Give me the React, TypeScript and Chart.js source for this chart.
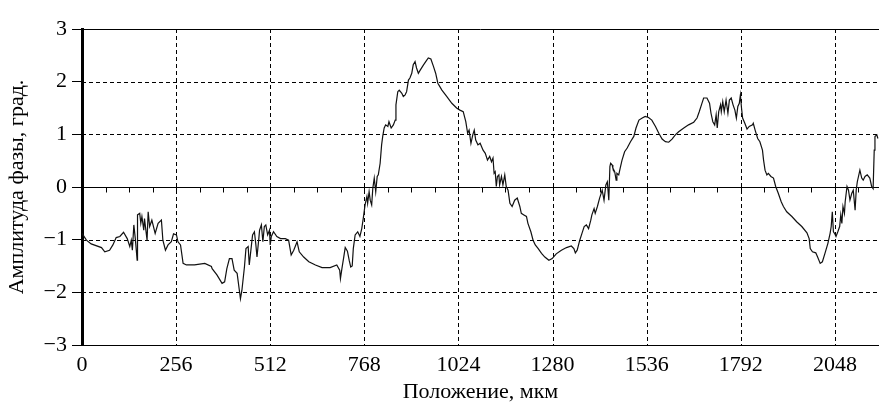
import React, { useEffect, useRef } from "react";
import { Chart, registerables } from "chart.js";

Chart.register(...registerables);

// Position along the sample, µm
const positions = [
  0, 12, 25, 53, 62, 75, 84, 93, 103, 113, 123, 130, 134, 137, 141, 145, 150, 151, 157, 160,
  163, 168, 170, 177, 180, 184, 190, 199, 207, 216, 220, 227, 234, 243, 249, 257, 261, 268, 275, 284,
  306, 334, 352, 354, 367, 381, 388, 394, 401, 408, 414, 422, 428, 431, 435, 442, 446, 452, 455, 461,
  464, 469, 473, 476, 481, 483, 488, 492, 496, 500, 505, 510, 512, 515, 521, 530, 540, 553, 562, 569,
  576, 585, 591, 603, 617, 635, 653, 675, 693, 701, 703, 707, 712, 716, 722, 727, 731, 735, 738, 743,
  750, 756, 761, 765, 770, 775, 777, 781, 784, 788, 791, 795, 799, 803, 806, 811, 815, 818, 822, 826,
  832, 835, 841, 847, 852, 854, 859, 863, 870, 874, 879, 883, 888, 892, 897, 901, 906, 910, 915, 920,
  929, 935, 942, 949, 956, 962, 968, 979, 992, 1006, 1019, 1028, 1037, 1044, 1049, 1053, 1058, 1063, 1067, 1071,
  1077, 1083, 1091, 1097, 1103, 1109, 1114, 1118, 1121, 1124, 1127, 1130, 1134, 1136, 1141, 1145, 1150, 1154, 1159, 1164,
  1170, 1177, 1184, 1191, 1195, 1202, 1209, 1213, 1221, 1227, 1233, 1241, 1250, 1259, 1270, 1279, 1290, 1304, 1318, 1331,
  1338, 1342, 1347, 1354, 1360, 1366, 1372, 1378, 1384, 1387, 1393, 1396, 1402, 1408, 1415, 1420, 1425, 1429, 1433, 1436,
  1438, 1442, 1444, 1449, 1453, 1455, 1460, 1464, 1469, 1476, 1483, 1492, 1501, 1507, 1515, 1524, 1532, 1541, 1550, 1560,
  1569, 1578, 1587, 1596, 1605, 1614, 1623, 1637, 1650, 1664, 1673, 1679, 1685, 1691, 1700, 1707, 1711, 1716, 1721, 1725,
  1728, 1732, 1737, 1739, 1743, 1747, 1752, 1757, 1761, 1766, 1771, 1776, 1780, 1784, 1788, 1791, 1794, 1797, 1803, 1809,
  1815, 1824, 1826, 1831, 1838, 1844, 1851, 1854, 1858, 1863, 1867, 1874, 1881, 1887, 1894, 1902, 1908, 1917, 1931, 1944,
  1958, 1972, 1978, 1981, 1987, 1996, 2001, 2008, 2014, 2021, 2029, 2035, 2038, 2041, 2044, 2047, 2051, 2056, 2061, 2064,
  2067, 2070, 2074, 2076, 2081, 2085, 2089, 2094, 2098, 2103, 2106, 2109, 2116, 2121, 2125, 2130, 2136, 2143, 2148, 2152,
  2155, 2157, 2162, 2165,
];

// Phase amplitude, degrees
const amplitudes = [
  -0.88, -1.01, -1.08, -1.15, -1.23, -1.2, -1.1, -0.96, -0.94, -0.86, -0.98, -1.13, -1.01, -1.2, -0.72, -0.98, -1.39, -0.53, -0.5, -0.69,
  -0.56, -0.82, -0.6, -1.01, -0.47, -0.75, -0.63, -0.88, -0.69, -0.63, -1.01, -1.2, -1.1, -1.04, -0.89, -0.91, -1.04, -1.1, -1.45, -1.48,
  -1.48, -1.45, -1.51, -1.55, -1.67, -1.83, -1.8, -1.55, -1.36, -1.36, -1.58, -1.64, -1.96, -2.12, -1.96, -1.51, -1.17, -1.13, -1.48, -1.1,
  -0.91, -0.85, -1.1, -1.33, -0.98, -0.82, -0.72, -1.04, -0.75, -0.72, -0.91, -0.82, -1.1, -0.94, -0.85, -0.94, -0.98, -0.98, -1.01, -1.29,
  -1.2, -1.04, -1.23, -1.33, -1.42, -1.48, -1.53, -1.53, -1.48, -1.58, -1.74, -1.55, -1.33, -1.15, -1.22, -1.4, -1.52, -1.5, -1.17, -0.91,
  -0.85, -0.94, -0.79, -0.6, -0.34, -0.18, -0.31, -0.09, -0.25, -0.34, -0.03, 0.17, -0.09, 0.2, 0.23, 0.45, 0.8, 0.96, 1.12, 1.18,
  1.15, 1.24, 1.12, 1.18, 1.27, 1.56, 1.81, 1.84, 1.78, 1.72, 1.75, 1.81, 2.03, 2.07, 2.16, 2.32, 2.38, 2.26, 2.16, 2.22,
  2.32, 2.38, 2.45, 2.43, 2.29, 2.16, 1.97, 1.84, 1.72, 1.59, 1.5, 1.46, 1.43, 1.24, 1.02, 1.08, 0.83, 0.99, 1.08, 0.89,
  0.8, 0.83, 0.7, 0.64, 0.51, 0.58, 0.48, 0.55, 0.26, 0.29, 0.01, 0.2, 0.23, 0.04, 0.2, 0.04, 0.23, 0.01, -0.06, -0.31,
  -0.37, -0.25, -0.21, -0.37, -0.5, -0.53, -0.56, -0.69, -0.85, -1.01, -1.1, -1.17, -1.26, -1.33, -1.39, -1.36, -1.27, -1.2, -1.15, -1.12,
  -1.17, -1.25, -1.2, -1.01, -0.88, -0.75, -0.72, -0.79, -0.63, -0.53, -0.41, -0.5, -0.37, -0.21, -0.06, -0.25, 0.04, 0.1, -0.25, 0.39,
  0.45, 0.42, 0.36, 0.29, 0.13, 0.26, 0.23, 0.36, 0.51, 0.67, 0.74, 0.86, 0.96, 1.12, 1.27, 1.31, 1.34, 1.32, 1.27, 1.15,
  1.02, 0.91, 0.86, 0.85, 0.91, 0.99, 1.05, 1.12, 1.18, 1.23, 1.31, 1.43, 1.56, 1.69, 1.69, 1.59, 1.4, 1.24, 1.18, 1.37,
  1.12, 1.43, 1.56, 1.43, 1.62, 1.43, 1.65, 1.4, 1.65, 1.69, 1.56, 1.46, 1.31, 1.53, 1.59, 1.75, 1.5, 1.31, 1.21, 1.1,
  1.15, 1.18, 1.21, 1.08, 0.92, 0.86, 0.7, 0.51, 0.32, 0.23, 0.26, 0.2, 0.17, 0.01, -0.12, -0.28, -0.37, -0.47, -0.56, -0.66,
  -0.75, -0.87, -0.98, -1.17, -1.23, -1.25, -1.33, -1.45, -1.42, -1.26, -1.07, -0.88, -0.75, -0.47, -0.85, -0.88, -0.94, -0.85, -0.75, -0.53,
  -0.69, -0.37, -0.5, -0.28, 0.01, -0.06, -0.25, -0.12, -0.06, -0.44, -0.06, 0.1, 0.32, 0.17, 0.13, 0.2, 0.23, 0.17, 0.01, -0.03,
  0.7, 0.96, 0.99, 0.92,
];

const xTickValues = [0, 256, 512, 768, 1024, 1280, 1536, 1792, 2048];
const yTickValues = [-3, -2, -1, 0, 1, 2, 3];
const yTickLabels = ["−3", "−2", "−1", "0", "1", "2", "3"];
const xMinorStep = 64;
const xMin = 0;
const xMax = 2168;
const xTitle = "Положение, мкм";
const yTitle = "Амплитуда фазы, град.";

const FONT = "'Liberation Serif', 'Times New Roman', serif";

export default function App() {
  const ref = useRef<HTMLCanvasElement>(null);

  useEffect(() => {
    const canvas = ref.current;
    if (!canvas) return;

    const gridPlugin = {
      id: "customGrid",
      beforeDatasetsDraw(chart: any) {
        const { ctx, chartArea: a, scales } = chart;
        const x = scales.x;
        const y = scales.y;
        const line = (x1: number, y1: number, x2: number, y2: number) => {
          ctx.beginPath();
          ctx.moveTo(x1, y1);
          ctx.lineTo(x2, y2);
          ctx.stroke();
        };
        ctx.save();
        ctx.strokeStyle = "#000";
        ctx.lineWidth = 1;
        ctx.setLineDash([4, 3]);
        for (const v of xTickValues) {
          if (v === xMin) continue;
          const px = Math.round(x.getPixelForValue(v)) + 0.5;
          line(px, a.top, px, a.bottom);
        }
        for (const v of yTickValues) {
          if (v === 0 || v === yTickValues[0] || v === yTickValues[yTickValues.length - 1]) continue;
          const py = Math.round(y.getPixelForValue(v)) + 0.5;
          line(a.left, py, a.right, py);
        }
        ctx.setLineDash([]);
        // solid zero line and top frame
        const y0 = Math.round(y.getPixelForValue(0)) + 0.5;
        line(a.left, y0, a.right, y0);
        const yTop = Math.round(y.getPixelForValue(yTickValues[yTickValues.length - 1])) + 0.5;
        line(a.left, yTop, a.right, yTop);
        // minor ticks on the zero line
        for (let v = xMinorStep; v < xMax; v += xMinorStep) {
          const px = Math.round(x.getPixelForValue(v)) + 0.5;
          line(px, y0, px, y0 + 5);
        }
        ctx.restore();
      },
    };

    const chart = new Chart(canvas, {
      type: "line",
      data: {
        datasets: [
          {
            data: positions.map((p, i) => ({ x: p, y: amplitudes[i] })),
            borderColor: "#111",
            borderWidth: 1.2,
            pointRadius: 0,
            tension: 0,
            fill: false,
          },
        ],
      },
      options: {
        responsive: false,
        animation: false,
        parsing: false,
        layout: { padding: { top: 29, right: 0, bottom: 0, left: 0 } },
        plugins: { legend: { display: false }, tooltip: { enabled: false } },
        scales: {
          x: {
            type: "linear",
            min: xMin,
            max: xMax,
            afterBuildTicks: (s: any) => {
              s.ticks = xTickValues.map((v) => ({ value: v }));
            },
            afterFit: (s: any) => {
              s.height = 59;
            },
            grid: { display: false, drawTicks: false },
            border: { display: true, color: "#000", width: 1 },
            ticks: {
              color: "#000",
              font: { family: FONT, size: 22, lineHeight: 1 },
              padding: 9,
              maxRotation: 0,
              autoSkip: false,
              callback: (v: any) => String(v),
            },
            title: {
              display: true,
              text: xTitle,
              color: "#000",
              font: { family: FONT, size: 22, lineHeight: 1 },
              padding: { top: 0, bottom: 0.5 },
            },
          },
          y: {
            type: "linear",
            min: yTickValues[0],
            max: yTickValues[yTickValues.length - 1],
            afterBuildTicks: (s: any) => {
              s.ticks = yTickValues.map((v) => ({ value: v }));
            },
            afterFit: (s: any) => {
              s.width = 82;
            },
            grid: {
              display: true,
              drawOnChartArea: false,
              drawTicks: true,
              tickLength: 10,
              tickColor: "#000",
              tickWidth: 1,
              color: "#000",
            },
            border: { display: true, color: "#000", width: 3 },
            ticks: {
              color: "#000",
              font: { family: FONT, size: 22, lineHeight: 1 },
              padding: 5,
              autoSkip: false,
              callback: (v: any) => yTickLabels[yTickValues.indexOf(Number(v))],
            },
            title: {
              display: true,
              text: yTitle,
              color: "#000",
              font: { family: FONT, size: 22, lineHeight: 1 },
              padding: { top: 6.5, bottom: 0 },
            },
          },
        },
      },
      plugins: [gridPlugin],
    } as any);

    return () => chart.destroy();
  }, []);

  return (
    <div style={{ position: "absolute", left: 0, top: 0, width: 879, height: 404, background: "#fff" }}>
      <canvas ref={ref} width={879} height={404} style={{ display: "block", width: 879, height: 404 }} />
    </div>
  );
}
